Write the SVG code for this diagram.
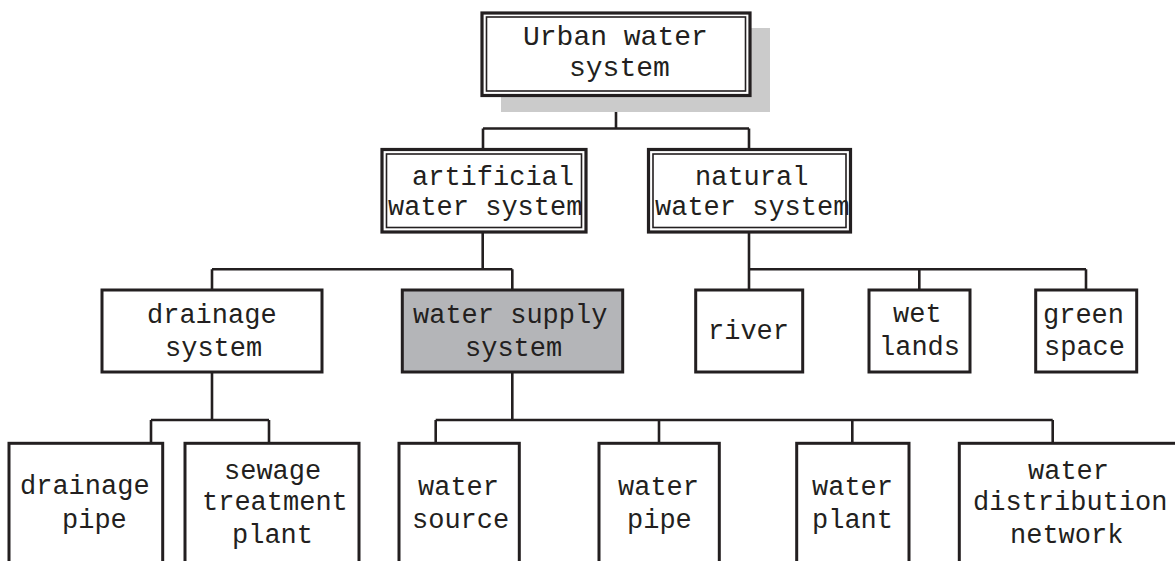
<svg xmlns="http://www.w3.org/2000/svg" width="1175" height="561" viewBox="0 0 1175 561">
<style>
.bg{fill:#ffffff}
.box{fill:#ffffff;stroke:#231f20;stroke-width:3}
.gray{fill:#b4b5b8;stroke:#231f20;stroke-width:3}
.outer{fill:#ffffff;stroke:#231f20;stroke-width:3.2}
.inner{fill:none;stroke:#231f20;stroke-width:1.6}
.shadow{fill:#cbcbcb}
.conn{fill:none;stroke:#231f20;stroke-width:2.6}
text{font-family:"Liberation Mono","Courier New",monospace;font-size:27px;fill:#231f20}
.big{font-size:28px}
</style>
<rect class="bg" x="0" y="0" width="1175" height="561"/>
<g id="connectors">
<path class="conn" d="M616,96 V128.5 M483,128.5 H749 M483,128.5 V149 M749,128.5 V149"/>
<path class="conn" d="M482.7,232 V269.3 M212,269.3 H512.3 M212,269.3 V290 M512.3,269.3 V290"/>
<path class="conn" d="M749,232 V269.3 H1086 M749,269.3 V290 M919.3,269.3 V290 M1086,269.3 V290"/>
<path class="conn" d="M212,372 V420 M151,420 H269 M151,420 V443 M269,420 V443"/>
<path class="conn" d="M512.3,372 V420 M435.7,420 H1052.7 M435.7,420 V443 M659,420 V443 M852.3,420 V443 M1052.7,420 V443"/>
</g>
<g id="node-urban">
<rect class="shadow" x="501" y="28" width="269" height="84"/>
<rect class="outer" x="482" y="13" width="268" height="82.5"/>
<rect class="inner" x="486.5" y="17" width="259" height="74"/>
<text class="big" x="523" y="45">Urban water</text>
<text class="big" x="569" y="76">system</text>
</g>
<g id="node-artificial">
<rect class="outer" x="382" y="149.5" width="204" height="82.5"/>
<rect class="inner" x="386.5" y="154" width="195" height="73.5"/>
<text x="412" y="185">artificial</text>
<text x="388" y="215">water system</text>
</g>
<g id="node-natural">
<rect class="outer" x="648.5" y="149.5" width="202" height="82.5"/>
<rect class="inner" x="653" y="154" width="193" height="73.5"/>
<text x="695" y="185">natural</text>
<text x="655" y="215">water system</text>
</g>
<g id="node-drainage-system">
<rect class="box" x="102" y="290" width="220" height="82"/>
<text x="147" y="323">drainage</text>
<text x="165" y="356">system</text>
</g>
<g id="node-water-supply">
<rect class="gray" x="402.3" y="290" width="220.4" height="82"/>
<text x="413" y="323">water supply</text>
<text x="465" y="356">system</text>
</g>
<g id="node-river">
<rect class="box" x="695.7" y="290" width="107" height="82"/>
<text x="708" y="339">river</text>
</g>
<g id="node-wetlands">
<rect class="box" x="869" y="290" width="101" height="82"/>
<text x="893" y="322">wet</text>
<text x="879" y="355">lands</text>
</g>
<g id="node-green">
<rect class="box" x="1035.7" y="290" width="101" height="82"/>
<text x="1043" y="323">green</text>
<text x="1044" y="355">space</text>
</g>
<g id="node-drainage-pipe">
<rect class="box" x="9" y="443.3" width="153.7" height="130"/>
<text x="20" y="494">drainage</text>
<text x="62" y="528">pipe</text>
</g>
<g id="node-sewage">
<rect class="box" x="185" y="443.3" width="174" height="130"/>
<text x="224" y="479">sewage</text>
<text x="202" y="510">treatment</text>
<text x="232" y="543">plant</text>
</g>
<g id="node-water-source">
<rect class="box" x="399" y="443.3" width="120.3" height="130"/>
<text x="418" y="495">water</text>
<text x="412" y="528">source</text>
</g>
<g id="node-water-pipe">
<rect class="box" x="599" y="443.3" width="120.3" height="130"/>
<text x="618" y="495">water</text>
<text x="627" y="528">pipe</text>
</g>
<g id="node-water-plant">
<rect class="box" x="796.7" y="443.3" width="112.3" height="130"/>
<text x="812" y="495">water</text>
<text x="812" y="528">plant</text>
</g>
<g id="node-distribution">
<rect class="box" x="959.3" y="443.3" width="230" height="130"/>
<text x="1028" y="479">water</text>
<text x="973" y="510">distribution</text>
<text x="1010" y="543">network</text>
</g>
</svg>
